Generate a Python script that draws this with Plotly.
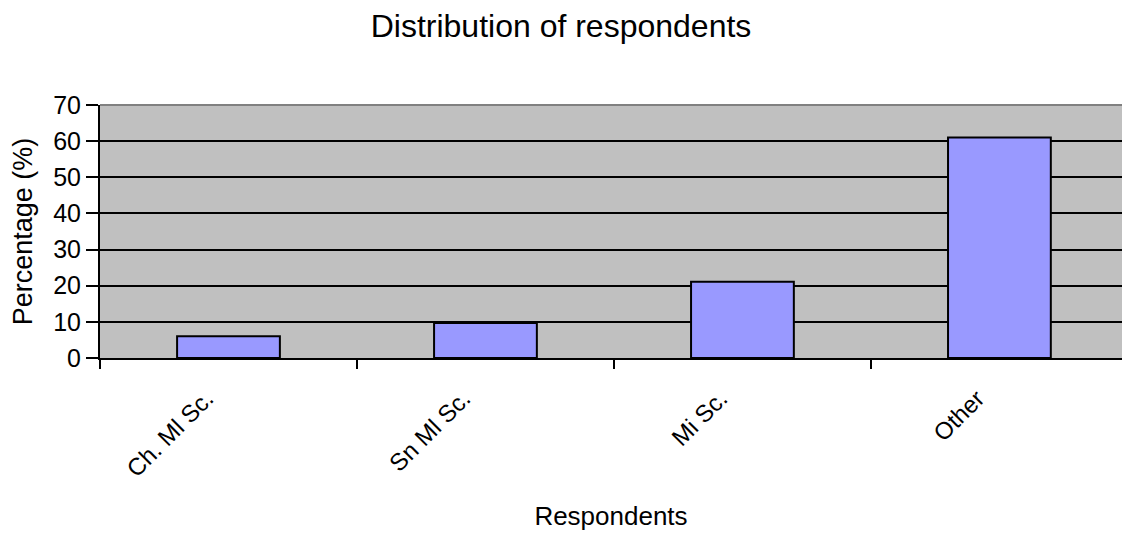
import plotly.graph_objects as go

categories = ["Ch. Ml Sc.", "Sn Ml Sc.", "Mi Sc.", "Other"]
percentages = [6.0, 9.7, 21.1, 61.0]
y_ticks = [0, 10, 20, 30, 40, 50, 60, 70]

fig = go.Figure()
fig.add_trace(go.Bar(
    x=categories, y=percentages,
    width=0.4,
    marker=dict(color="#9999FF", line=dict(color="#000000", width=2)),
))

font_family = "Liberation Sans, Arial, sans-serif"
fig.update_layout(
    width=1122, height=538,
    margin=dict(l=100, r=0, t=105, b=180),
    paper_bgcolor="white",
    plot_bgcolor="#C0C0C0",
    showlegend=False,
    font=dict(family=font_family, color="black"),
    title=dict(text="Distribution of respondents", x=0.5, xanchor="center",
               y=0.952, yanchor="middle", font=dict(size=32, color="black")),
)
fig.update_xaxes(
    range=[-0.5, 3.477],
    tickson="boundaries",
    ticks="outside", ticklen=9, tickwidth=2, tickcolor="black",
    showline=True, linecolor="black", linewidth=2,
    showgrid=False,
    tickangle=-45,
    ticklabelshift=-22,
    ticklabelstandoff=15,
    tickfont=dict(size=24, color="black"),
    title=dict(text="Respondents", font=dict(size=26, color="black"), standoff=26),
)
fig.update_yaxes(
    range=[0, 70],
    tickvals=y_ticks,
    ticks="outside", ticklen=12, tickwidth=2, tickcolor="black",
    showline=True, linecolor="black", linewidth=2,
    showgrid=True, gridcolor="black", gridwidth=2,
    zeroline=False,
    tickfont=dict(size=25, color="black"),
    title=dict(text="Percentage (%)", font=dict(size=27, color="black"), standoff=13),
)
fig.add_shape(type="line", xref="paper", yref="paper", x0=0, x1=1, y0=1, y1=1,
              line=dict(color="#808080", width=2))

fig.write_html(
    "out.html",
    config={"displayModeBar": False},
    post_script="document.body.style.margin='0';document.body.style.overflow='hidden';",
)
